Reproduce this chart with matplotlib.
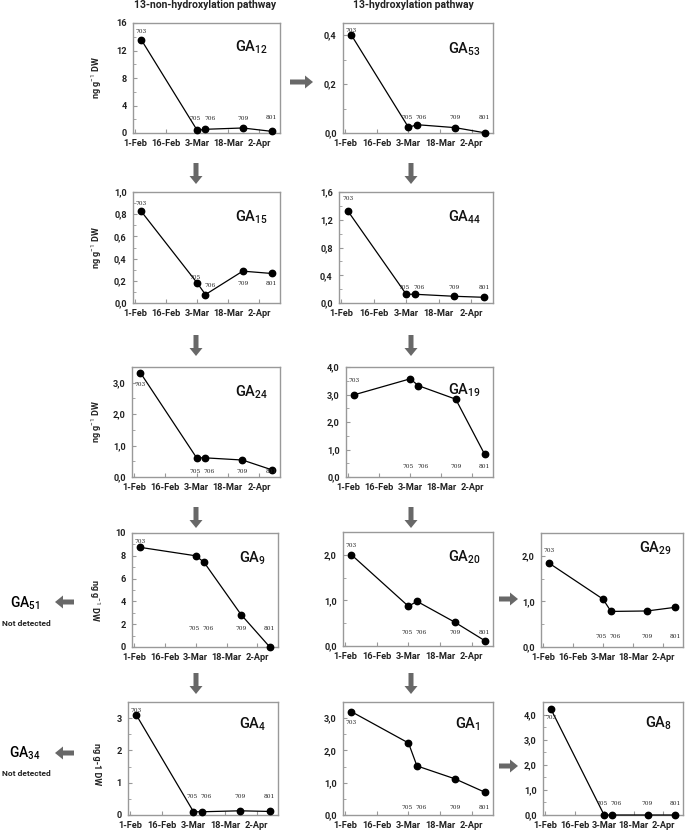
import matplotlib
matplotlib.use("Agg")
import matplotlib.pyplot as plt
from matplotlib.patches import FancyArrow
from matplotlib.ticker import FuncFormatter, MultipleLocator

plt.rcParams["font.family"] = ["Roboto", "DejaVu Sans"]
plt.rcParams["mathtext.fontset"] = "custom"
plt.rcParams["mathtext.rm"] = "Roboto"
plt.rcParams["mathtext.it"] = "Roboto:italic"
plt.rcParams["mathtext.bf"] = "Roboto:bold"

W, H = 685, 833

# sampling dates, days after 1 February
DAYS = [3, 30, 34, 52, 66]
SAMPLES = ["703", "705", "706", "709", "801"]
DATE_TICKS = [0, 15, 30, 45, 60]
DATE_LABELS = ["1-Feb", "16-Feb", "3-Mar", "18-Mar", "2-Apr"]

# ng g-1 DW
GA12 = [13.56, 0.39, 0.54, 0.73, 0.24]
GA53 = [0.40, 0.023, 0.034, 0.022, 0.001]
GA15 = [0.825, 0.18, 0.076, 0.287, 0.266]
GA44 = [1.33, 0.126, 0.126, 0.097, 0.082]
GA24 = [3.32, 0.61, 0.61, 0.54, 0.23]
GA19 = [2.99, 3.57, 3.32, 2.83, 0.82]
GA9 = [8.74, 8.0, 7.44, 2.85, 0.0]
GA20 = [2.0, 0.87, 0.98, 0.52, 0.12]
GA29 = [1.84, 1.05, 0.78, 0.79, 0.87]
GA4 = [3.09, 0.10, 0.10, 0.13, 0.11]
GA1 = [3.2, 2.23, 1.52, 1.12, 0.71]
GA8 = [4.22, 0.0, 0.0, 0.0, 0.0]

DX_LABEL = [0, -0.8, 2.0, 0, 0]

# name, values, box (l, t, r, b) px, ymax, major, minor, decimals, label y, title y
PANELS = [
    ("12", GA12, (133, 23, 280, 133), 16, 4, 2, 0, [14.7, 2.1, 2.1, 2.1, 2.2], 0.78),
    ("53", GA53, (343, 23, 493, 133), 0.45, 0.2, 0.1, 1, [0.42, 0.062, 0.062, 0.062, 0.062], 0.76),
    ("15", GA15, (133, 192, 280, 303), 1.0, 0.2, 0.1, 1, [0.9, 0.23, 0.16, 0.18, 0.18], 0.77),
    ("44", GA44, (339, 192, 493, 303), 1.6, 0.4, 0.2, 1, [1.5, 0.23, 0.23, 0.23, 0.23], 0.77),
    ("24", GA24, (132, 367, 280, 477), 3.5, 1, 0.5, 1, [2.93, 0.16, 0.16, 0.16, 0.16], 0.77),
    ("19", GA19, (346, 367, 493, 477), 4, 1, 0.5, 1, [3.51, 0.37, 0.37, 0.37, 0.37], 0.79),
    ("9", GA9, (132, 533, 278, 647), 10, 2, 1, 0, [9.26, 1.62, 1.62, 1.62, 1.62], 0.78),
    ("20", GA20, (343, 532, 493, 646), 2.5, 1, 0.5, 1, [2.2, 0.29, 0.29, 0.29, 0.29], 0.78),
    ("29", GA29, (541, 533, 683, 647), 2.5, 1, 0.5, 1, [2.11, 0.22, 0.22, 0.22, 0.22], 0.87),
    ("4", GA4, (128, 702, 278, 815), 3.5, 1, 0.5, 0, [3.24, 0.57, 0.57, 0.57, 0.57], 0.80),
    ("1", GA1, (343, 702, 493, 815), 3.5, 1, 0.5, 1, [2.88, 0.23, 0.23, 0.23, 0.23], 0.80),
    ("8", GA8, (543, 702, 683, 815), 4.5, 1, 0.5, 1, [3.88, 0.46, 0.46, 0.46, 0.46], 0.81),
]


def comma_fmt(decimals):
    def fmt(v, _pos):
        return f"{v:.{decimals}f}".replace(".", ",")
    return FuncFormatter(fmt)


def draw_panel(fig, name, values, box, ymax, major, minor, decimals, label_y, title_y):
    l, t, r, b = box
    ax = fig.add_axes([l / W, 1 - b / H, (r - l) / W, (b - t) / H])
    ax.plot(DAYS, values, color="black", lw=0.9, marker="o", ms=4.6, clip_on=False, zorder=3)
    for d, ly, s, dx in zip(DAYS, label_y, SAMPLES, DX_LABEL):
        ax.text(d + dx, ly, s, fontsize=4.2, family="DejaVu Serif", ha="center", va="center",
                color="#222222")
    ax.set_xlim(-1, 70)
    ax.set_ylim(0, ymax)
    ax.set_xticks(DATE_TICKS)
    ax.set_xticklabels(DATE_LABELS)
    ax.yaxis.set_major_locator(MultipleLocator(major))
    ax.yaxis.set_minor_locator(MultipleLocator(minor))
    ax.yaxis.set_major_formatter(comma_fmt(decimals))
    ax.tick_params(axis="both", which="both", direction="in", color="#999999",
                   labelsize=6.6, pad=4.5)
    ax.tick_params(axis="both", which="major", length=3)
    ax.tick_params(axis="y", which="minor", length=2)
    for lab in ax.get_xticklabels() + ax.get_yticklabels():
        lab.set_fontweight("bold")
        lab.set_color("#222222")
    for sp in ax.spines.values():
        sp.set_color("#999999")
        sp.set_linewidth(1.0)
    ax.text(0.92, title_y, r"$\mathregular{GA_{%s}}$" % name, transform=ax.transAxes,
            ha="right", va="center", fontsize=10.5, fontweight="medium", color="#111111")
    return ax


fig = plt.figure(figsize=(W / 100, H / 100), dpi=100)

ov = fig.add_axes([0, 0, 1, 1])
ov.set_xlim(0, W)
ov.set_ylim(H, 0)
ov.axis("off")

for p in PANELS:
    draw_panel(fig, *p)

arrow_kw = dict(width=5, head_width=13, head_length=8, length_includes_head=True,
                color="#686868", lw=0)
# down arrows between rows
for x in (196, 411):
    for y0, y1 in ((163, 184), (335, 356), (507, 528), (673, 694)):
        ov.add_patch(FancyArrow(x, y0, 0, y1 - y0, **arrow_kw))
# right arrows
for x0, x1, y in ((290, 313, 82), (499, 518, 599), (499, 518, 766)):
    ov.add_patch(FancyArrow(x0, y, x1 - x0, 0, **arrow_kw))
# left arrows
for y in (602, 753):
    ov.add_patch(FancyArrow(74, y, -19, 0, **arrow_kw))

ov.text(205, 5, "13-non-hydroxylation pathway", ha="center", va="center",
        fontsize=7.5, fontweight="bold", color="#222222")
ov.text(413, 5, "13-hydroxylation pathway", ha="center", va="center",
        fontsize=7.5, fontweight="bold", color="#222222")

for name, y in (("51", 603), ("34", 753)):
    ov.text(25, y, r"$\mathregular{GA_{%s}}$" % name, ha="center", va="center", fontsize=10,
            fontweight="medium")
    ov.text(26, y + 21, "Not detected", ha="center", va="center", fontsize=6,
            fontweight="bold", color="#222222")

ylab_sup = r"ng g$^{-1}$ DW"
for y in (78, 248, 422):
    ov.text(97, y, ylab_sup, rotation=90, ha="center", va="center", fontsize=6.5,
            fontweight="bold", color="#222222")
ov.text(94, 600, ylab_sup, rotation=270, ha="center", va="center", fontsize=6.5,
        fontweight="bold", color="#222222")
ov.text(97, 764, "ng g-1 DW", rotation=270, ha="center", va="center", fontsize=6.5,
        fontweight="bold", color="#222222")

fig.savefig("out.png", dpi=100)
